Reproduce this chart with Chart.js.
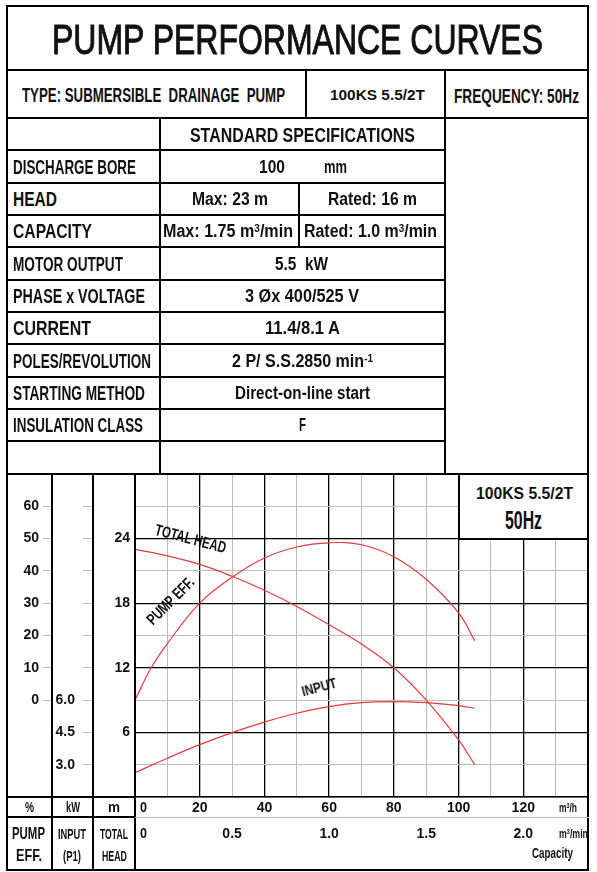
<!DOCTYPE html>
<html><head><meta charset="utf-8">
<script src="https://cdn.jsdelivr.net/npm/chart.js@4.4.1/dist/chart.umd.min.js"></script>
<style>
html,body{margin:0;padding:0;background:#fff;}
body{width:597px;height:872px;position:relative;overflow:hidden;font-family:"Liberation Sans",Arial,sans-serif;color:#111;}
.ln{position:absolute;}
.tx{position:absolute;white-space:nowrap;line-height:1;transform-origin:0 0;}
.sup{font-size:0.62em;position:relative;top:-0.5em;}
#chartWrap{position:absolute;left:7px;top:474px;width:581px;height:396px;}
</style></head><body>
<div id="chartWrap"><canvas id="c" width="581" height="396" style="width:581px;height:396px"></canvas></div>
<script>
// ---------- data ----------
const flowHead    = [0, 10, 20, 30, 40, 50, 60, 70, 80, 90, 100, 105];           // m3/h
const headValues  = [23.0, 22.4, 21.6, 20.5, 19.2, 17.7, 16.0, 14.2, 12.0, 9.0, 5.3, 3.0]; // m
const flowEff     = [0, 5, 10, 20, 30, 40, 50, 60, 70, 80, 90, 100, 105];
const effValues   = [0, 10, 17.5, 30, 38, 44, 47.4, 48.7, 48.1, 44.4, 37.4, 27.0, 18.4]; // %
const flowInput   = [0, 10, 20, 30, 40, 50, 60, 70, 80, 90, 100, 105];
const inputValues = [2.63, 3.3, 3.93, 4.49, 4.98, 5.39, 5.70, 5.88, 5.93, 5.88, 5.74, 5.62]; // kW

// tick labels
const effTicks  = [0, 10, 20, 30, 40, 50, 60];
const kwMarks   = [3.0, 4.5, 6.0, 7.5, 9.0, 10.5, 12.0, 13.5, 15.0];
const kwTicks   = [3.0, 4.5, 6.0];
const headTicks = [6, 12, 18, 24];
const flowTicks = [20, 40, 60, 80, 100, 120];
const capTicks  = [0.5, 1.0, 1.5, 2.0];

const BLACK = '#000', GREY = '#bcbcbc', CURVE = '#e23a3a';

Chart.defaults.font.family = '"Liberation Sans", Arial, sans-serif';
Chart.defaults.font.weight = 'bold';
Chart.defaults.font.size = 14;
Chart.defaults.color = '#111';

function pts(xs, ys) { return xs.map((x, i) => ({x: x, y: ys[i]})); }
function zeroPad(s) { s.paddingTop = 0; s.paddingBottom = 0; s.paddingLeft = 0; s.paddingRight = 0; }
const curveStyle = {borderColor: CURVE, borderWidth: 1.2, pointRadius: 0, tension: 0.4, fill: false};

new Chart(document.getElementById('c'), {
  type: 'line',
  data: {
    datasets: [
      Object.assign({label: 'TOTAL HEAD', data: pts(flowHead, headValues), xAxisID: 'x', yAxisID: 'y'}, curveStyle),
      Object.assign({label: 'PUMP EFF.', data: pts(flowEff, effValues), xAxisID: 'x', yAxisID: 'yEff'}, curveStyle),
      Object.assign({label: 'INPUT', data: pts(flowInput, inputValues), xAxisID: 'x', yAxisID: 'yKw'}, curveStyle)
    ]
  },
  options: {
    responsive: false, animation: false, events: [],
    layout: {padding: 0},
    plugins: {legend: {display: false}, tooltip: {enabled: false}},
    scales: {
      x: {
        type: 'linear', position: 'bottom', min: 0, max: 140, weight: 0,
        ticks: {stepSize: 10, autoSkip: false, maxRotation: 0, padding: 3,
                callback: v => flowTicks.includes(v) ? String(v) : ''},
        grid: {drawTicks: false,
               color: c => (c.tick && c.tick.value % 20 === 0) ? BLACK : GREY,
               lineWidth: c => (c.tick && c.tick.value % 20 === 0) ? 1.3 : 1},
        border: {display: true, color: BLACK, width: 1.5},
        afterFit: s => { s.height = 20; zeroPad(s); }
      },
      x2: {
        type: 'linear', position: 'bottom', min: 0, max: 140 / 60, weight: 1,
        afterBuildTicks: s => { s.ticks = capTicks.map(v => ({value: v})); },
        ticks: {autoSkip: false, maxRotation: 0, padding: 9, callback: v => Number(v).toFixed(1)},
        grid: {display: false, drawTicks: false},
        border: {display: false},
        afterFit: s => { s.height = 53; zeroPad(s); }
      },
      y: {
        type: 'linear', position: 'left', min: 0, max: 30, weight: 0,
        ticks: {stepSize: 3, autoSkip: false, padding: 5,
                callback: v => headTicks.includes(v) ? String(v) : ''},
        grid: {drawTicks: false,
               color: c => (c.tick && c.tick.value % 6 === 0) ? BLACK : GREY,
               lineWidth: c => (c.tick && c.tick.value % 6 === 0) ? 1.3 : 1},
        border: {display: true, color: BLACK, width: 1.5},
        afterFit: s => { s.width = 42; zeroPad(s); }
      },
      yKw: {
        type: 'linear', position: 'left', min: 1.5, max: 16.5, weight: 1,
        afterBuildTicks: s => { s.ticks = kwMarks.map(v => ({value: v})); },
        ticks: {autoSkip: false, padding: 8,
                callback: v => kwTicks.includes(v) ? Number(v).toFixed(1) : ''},
        grid: {drawOnChartArea: false, drawTicks: true, tickLength: 10, tickColor: GREY, tickWidth: 1},
        border: {display: false},
        afterFit: s => { s.width = 41; zeroPad(s); }
      },
      yEff: {
        type: 'linear', position: 'left', min: -30, max: 70, weight: 2,
        afterBuildTicks: s => { s.ticks = effTicks.map(v => ({value: v})); },
        ticks: {autoSkip: false, padding: 4, callback: v => String(v)},
        grid: {drawOnChartArea: false, drawTicks: true, tickLength: 9, tickColor: GREY, tickWidth: 1},
        border: {display: false},
        afterFit: s => { s.width = 45; zeroPad(s); }
      }
    }
  }
});

// ---------- frame lines ----------
function H(y, x1, x2, w, col) {
  w = w || 1.5; const d = document.createElement('div'); d.className = 'ln';
  d.style.cssText = `left:${x1 - w / 2}px;top:${y - w / 2}px;width:${x2 - x1 + w}px;height:${w}px;background:${col || BLACK}`;
  document.body.appendChild(d);
}
function V(x, y1, y2, w, col) {
  w = w || 1.5; const d = document.createElement('div'); d.className = 'ln';
  d.style.cssText = `left:${x - w / 2}px;top:${y1 - w / 2}px;width:${w}px;height:${y2 - y1 + w}px;background:${col || BLACK}`;
  document.body.appendChild(d);
}
// white model box in the chart corner
(function () {
  const d = document.createElement('div'); d.className = 'ln';
  d.style.cssText = 'left:459px;top:474px;width:129px;height:65px;background:#fff';
  document.body.appendChild(d);
})();
V(459, 474, 539); H(539, 459, 588);

H(6, 7, 588, 2); H(870, 7, 588, 2); V(7, 6, 870, 2); V(588, 6, 870, 2);
H(70, 7, 588); H(118, 7, 588); H(474, 7, 588);
[150, 183, 215, 247, 280, 312, 344, 377, 409, 441].forEach(y => H(y, 7, 445));
V(306, 70, 118); V(445, 70, 474); V(160, 118, 474); V(299, 183, 247);
V(52, 474, 870); V(93, 474, 870); V(135, 474, 870);
H(797, 7, 135); H(817, 7, 135); H(817, 135, 588, 1, GREY);

// ---------- texts ----------
function tx(html, x1, x2, cy, fs, bold, stroke) {
  const d = document.createElement('div'); d.className = 'tx'; d.innerHTML = html;
  d.style.fontSize = fs + 'px'; d.style.fontWeight = (bold === false) ? 'normal' : 'bold';
  if (stroke) d.style.webkitTextStroke = stroke + 'px #111';
  d.style.left = x1 + 'px'; d.style.top = (cy - 0.4885 * fs) + 'px';
  document.body.appendChild(d);
  const w = d.getBoundingClientRect().width;
  d.style.transform = `scaleX(${(x2 - x1) / w})`;
}
function rt(html, cx, cy, len, fs, ang) {
  const d = document.createElement('div'); d.className = 'tx'; d.innerHTML = html;
  d.style.fontSize = fs + 'px'; d.style.fontWeight = 'bold';
  document.body.appendChild(d);
  const r = d.getBoundingClientRect();
  d.style.left = (cx - r.width / 2) + 'px'; d.style.top = (cy - r.height / 2) + 'px';
  d.style.transformOrigin = '50% 50%';
  d.style.transform = `rotate(${ang}deg) scaleX(${len / r.width})`;
}
const sup = s => `<span class="sup">${s}</span>`;

tx('PUMP PERFORMANCE CURVES', 52, 543, 40, 42, false, 1);
tx('TYPE: SUBMERSIBLE&nbsp; DRAINAGE&nbsp; PUMP', 22, 285, 95, 20);
tx('100KS 5.5/2T', 330, 425, 95, 14);
tx('FREQUENCY: 50Hz', 454, 579, 95, 21);
tx('STANDARD SPECIFICATIONS', 190, 415, 135, 20);

tx('DISCHARGE BORE', 13, 136, 167, 20);
tx('HEAD', 13, 57, 199, 20);
tx('CAPACITY', 13, 92, 231, 20);
tx('MOTOR OUTPUT', 13, 123, 264, 20);
tx('PHASE x VOLTAGE', 13, 145, 296, 20);
tx('CURRENT', 13, 91, 328, 20);
tx('POLES/REVOLUTION', 13, 151, 361, 20);
tx('STARTING METHOD', 13, 145, 393, 20);
tx('INSULATION CLASS', 13, 143, 425, 20);

tx('100', 259, 285, 167, 18);
tx('mm', 324, 347, 167, 18);
tx('Max: 23 m', 192, 268, 199, 18);
tx('Rated: 16 m', 328, 417, 199, 18);
tx('Max: 1.75 m' + sup('3') + '/min', 163, 293, 231, 18);
tx('Rated: 1.0 m' + sup('3') + '/min', 304, 437, 231, 18);
tx('5.5&nbsp;&nbsp;kW', 275, 328, 264, 18);
tx('3 Øx 400/525 V', 245, 359, 296, 18);
tx('11.4/8.1 A', 265, 340, 328, 18);
tx('2 P/ S.S.2850 min' + sup('-1'), 232, 373, 361, 18);
tx('Direct-on-line start', 235, 370, 393, 18);
tx('F', 299, 306, 425, 18);

tx('100KS 5.5/2T', 476, 573, 493.5, 16);
tx('50Hz', 505, 542, 520, 25);

tx('%', 25, 34, 807, 14);
tx('kW', 66, 80, 807, 14);
tx('m', 108, 120, 807, 14);
tx('PUMP', 12, 45, 833, 17);
tx('EFF.', 16, 42, 855, 17);
tx('INPUT', 58, 86, 833, 15);
tx('(P1)', 63, 81, 855, 15);
tx('TOTAL', 100, 128, 833, 15);
tx('HEAD', 102, 127, 855, 15);
tx('0', 140, 147, 807, 14);
tx('0', 140, 147, 833, 14);
tx('m' + sup('3') + '/h', 559, 577, 807, 13);
tx('m' + sup('3') + '/min', 559, 588, 833, 13);
tx('Capacity', 532, 573, 853, 14);

rt('TOTAL HEAD', 190.4, 538.5, 73, 16, 15);
rt('PUMP EFF.', 171, 601, 60, 16, -45);
rt('INPUT', 318.8, 687.3, 35.5, 14, -15);
</script>
</body></html>
